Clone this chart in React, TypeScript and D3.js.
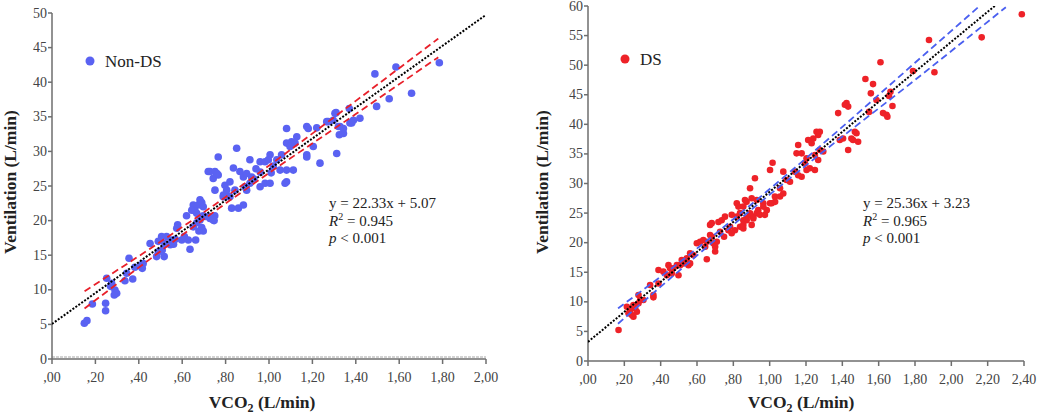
import * as d3 from "d3";

// ---- data ----
// Non-DS group, [VCO2 L/min, VE L/min]
const nonDsPoints: [number, number][] = [
  [0.149, 5.16], [0.161, 5.54], [0.186, 7.95], [0.247, 8.05], [0.247, 6.98], [0.252, 11.66],
  [0.275, 10.94], [0.29, 9.97], [0.298, 9.49], [0.287, 9.25], [0.27, 10.5], [0.336, 11.3],
  [0.372, 11.56], [0.355, 14.55], [0.344, 12.4], [0.382, 13.25], [0.41, 13.58], [0.416, 13.1],
  [0.413, 13.3], [0.42, 13.8], [0.452, 16.7], [0.482, 14.8], [0.49, 15.5], [0.517, 14.8],
  [0.508, 15.75], [0.505, 17.7], [0.528, 17.7], [0.551, 17.2], [0.52, 16.7], [0.545, 16.5],
  [0.56, 16.6], [0.568, 17.3], [0.49, 17.0], [0.579, 19.4], [0.575, 18.9], [0.598, 17.2],
  [0.61, 17.7], [0.628, 17.2], [0.636, 15.85], [0.662, 17.2], [0.62, 20.7], [0.651, 22.25],
  [0.674, 22.25], [0.69, 22.6], [0.659, 21.4], [0.697, 20.7], [0.667, 19.7], [0.69, 19.0],
  [0.697, 18.5], [0.677, 18.5], [0.728, 20.3], [0.747, 20.0], [0.75, 20.7], [0.751, 24.4],
  [0.79, 23.7], [0.81, 23.5], [0.828, 21.8], [1.081, 33.3], [1.174, 33.6], [1.266, 34.3],
  [1.304, 35.5], [0.851, 30.45], [0.766, 29.2], [0.728, 27.1], [0.751, 27.1], [0.766, 26.6],
  [0.743, 26.1], [0.836, 27.6], [0.866, 27.1], [0.912, 28.8], [0.959, 28.5], [0.982, 28.5],
  [1.005, 29.5], [0.997, 28.8], [1.128, 32.1], [1.104, 31.4], [1.081, 31.2], [1.097, 30.7],
  [1.12, 31.2], [1.204, 30.7], [1.174, 29.5], [1.235, 28.3], [1.312, 29.7], [1.343, 32.6],
  [1.327, 33.6], [1.389, 34.5], [1.373, 34.1], [0.797, 25.1], [0.82, 25.6], [0.805, 24.4],
  [0.789, 23.45], [0.82, 23.45], [0.843, 24.4], [0.882, 26.3], [0.889, 24.9], [0.897, 24.4],
  [0.912, 25.4], [0.897, 26.8], [0.92, 26.3], [0.959, 24.9], [0.982, 25.4], [1.005, 25.4],
  [1.051, 27.3], [1.081, 27.3], [1.112, 27.3], [1.081, 25.6], [0.682, 23.0], [0.644, 21.5],
  [0.667, 21.05], [0.697, 22.0], [0.705, 20.6], [0.728, 20.6], [0.743, 20.1], [0.682, 20.1],
  [0.651, 19.1], [0.859, 21.8], [0.882, 22.25], [1.488, 41.2], [1.585, 42.2], [1.785, 42.8],
  [1.657, 38.4], [1.554, 37.6], [1.496, 36.5], [1.37, 36.2], [1.309, 35.6], [1.273, 34.3],
  [1.296, 34.5], [1.419, 34.8], [1.381, 34.1], [1.343, 33.3], [1.32, 33.6], [1.324, 32.4],
  [1.181, 33.3], [1.22, 33.4], [1.074, 25.4], [1.174, 29.2], [1.036, 28.8], [1.058, 29.5],
  [1.02, 27.9], [0.94, 27.5], [0.93, 26.0], [0.96, 27.0], [1.01, 26.9], [0.72, 27.1],
  [0.76, 26.8],
];

// DS group
const dsPoints: [number, number][] = [
  [0.168, 5.24], [0.214, 9.18], [0.232, 8.62], [0.241, 7.77], [0.25, 7.49], [0.26, 8.9],
  [0.269, 8.33], [0.223, 8.06], [0.25, 9.46], [0.278, 9.75], [0.287, 10.3], [0.278, 11.15],
  [0.305, 10.3], [0.342, 12.84], [0.36, 11.15], [0.36, 10.76], [0.388, 15.38], [0.388, 13.1],
  [0.415, 15.1], [0.443, 16.2], [0.452, 15.67], [0.47, 15.67], [0.489, 16.2], [0.498, 14.5],
  [0.461, 14.8], [0.434, 14.5], [0.516, 17.07], [0.525, 16.5], [0.544, 17.36], [0.553, 16.2],
  [0.562, 16.5], [0.507, 16.2], [0.562, 18.2], [0.58, 17.9], [0.599, 19.9], [0.617, 20.16],
  [0.635, 20.45], [0.654, 20.16], [0.672, 21.3], [0.645, 19.3], [0.69, 19.9], [0.709, 20.16],
  [0.7, 19.3], [0.7, 18.5], [0.654, 17.2], [0.681, 21.0], [0.672, 23.0], [0.681, 23.3],
  [0.718, 23.5], [0.736, 23.8], [0.754, 24.4], [0.727, 21.85], [0.749, 21.0], [0.773, 22.1],
  [0.782, 22.7], [0.809, 22.1], [0.791, 21.6], [0.791, 24.7], [0.819, 24.4], [0.837, 25.0],
  [0.855, 23.8], [0.873, 24.1], [0.892, 24.7], [0.91, 24.4], [0.929, 25.0], [0.901, 23.0],
  [0.837, 22.7], [0.855, 22.4], [0.819, 26.65], [0.828, 26.1], [0.873, 26.9], [0.937, 25.5],
  [0.947, 24.7], [0.965, 26.65], [0.984, 25.5], [1.011, 26.65], [1.03, 26.9], [1.377, 41.9],
  [1.423, 43.6], [1.432, 43.0], [1.414, 43.3], [1.624, 41.9], [1.643, 41.6], [1.469, 38.75],
  [1.478, 38.5], [1.459, 37.35], [1.487, 37.06], [1.432, 35.66], [1.386, 37.35], [1.404, 37.6],
  [1.258, 38.75], [1.276, 38.75], [1.267, 38.2], [1.24, 37.6], [1.212, 37.35], [1.231, 36.8],
  [1.295, 35.4], [1.267, 33.97], [1.249, 34.8], [1.276, 35.66], [1.157, 36.5], [1.148, 35.1],
  [1.176, 35.1], [1.203, 34.26], [1.194, 33.4], [1.221, 32.57], [1.203, 32.28], [1.176, 31.15],
  [1.139, 32.0], [1.157, 31.4], [1.249, 32.28], [1.016, 33.5], [1.002, 32.28], [0.919, 30.9],
  [1.075, 32.0], [1.093, 30.6], [1.112, 30.3], [1.057, 29.2], [1.029, 27.8], [1.057, 27.8],
  [1.075, 28.3], [0.892, 29.2], [0.901, 27.5], [0.929, 27.2], [0.965, 26.1], [0.892, 24.96],
  [0.855, 26.1], [0.864, 27.2], [1.002, 26.65], [0.974, 24.7], [0.91, 24.1], [0.873, 23.8],
  [0.855, 23.0], [2.388, 58.6], [2.167, 54.7], [1.877, 54.25], [1.907, 48.8], [1.789, 49.0],
  [1.61, 50.5], [1.527, 47.66], [1.569, 46.8], [1.557, 45.24], [1.588, 44.1], [1.665, 45.5],
  [1.657, 44.8], [1.676, 43.1], [1.648, 41.3], [1.547, 42.1], [1.45, 37.6],
];

// regression fits
const nonDsFit = { slope: 22.33, intercept: 5.07, from: 0, to: 2.0 };
const dsFit = { slope: 25.36, intercept: 3.23, from: 0, to: 2.24 };

// 95% CI band of the mean, read at a few x positions
const nonDsBandX = [0.15, 0.45, 0.75, 1.05, 1.4, 1.78];
const nonDsBandUpper = [9.8, 15.9, 22.3, 29.1, 37.3, 46.3];
const nonDsBandLower = [7.3, 14.4, 21.35, 27.95, 35.4, 43.6];
const dsBandX = [0.165, 0.5, 0.9, 1.3, 1.8, 2.3];
const dsBandUpper = [8.9, 16.6, 26.5, 36.9, 50.4, 63.9];
const dsBandLower = [6.3, 15.2, 25.6, 35.5, 47.5, 59.8];

// ticks
const nonDsXTicks = [0, 0.2, 0.4, 0.6, 0.8, 1.0, 1.2, 1.4, 1.6, 1.8, 2.0];
const nonDsYTicks = [0, 5, 10, 15, 20, 25, 30, 35, 40, 45, 50];
const dsXTicks = [0, 0.2, 0.4, 0.6, 0.8, 1.0, 1.2, 1.4, 1.6, 1.8, 2.0, 2.2, 2.4];
const dsYTicks = [0, 5, 10, 15, 20, 25, 30, 35, 40, 45, 50, 55, 60];

const nonDsStats = ["y = 22.33x + 5.07", "0.945", "0.001"];
const dsStats = ["y = 25.36x + 3.23", "0.965", "0.001"];

const SERIF = "'Liberation Serif', 'Times New Roman', serif";

// ,00  ,20  1,00 ...
const fmtTick = (v: number) => v.toFixed(2).replace(".", ",").replace(/^0/, "");

function Panel({ id, points, dotColor, dotR, bandColor, fit, bandX, bandUp, bandLo,
  xTicks, yTicks, box, legend, stats, statsX, yTitleX, doubleBase }) {
  const x = d3.scaleLinear().domain([xTicks[0], xTicks[xTicks.length - 1]]).range([box.left, box.right]);
  const y = d3.scaleLinear().domain([yTicks[0], yTicks[yTicks.length - 1]]).range([box.bottom, box.top]);

  const line = d3.line<[number, number]>().x((d) => x(d[0])).y((d) => y(d[1]));
  const bandLine = d3.line<[number, number]>().x((d) => x(d[0])).y((d) => y(d[1])).curve(d3.curveMonotoneX);

  const fitPts: [number, number][] = [fit.from, fit.to].map((v) => [v, fit.slope * v + fit.intercept]);
  const up: [number, number][] = bandX.map((v, i) => [v, bandUp[i]]);
  const lo: [number, number][] = bandX.map((v, i) => [v, bandLo[i]]);

  const axisColor = "#6e6e6e";
  const labelColor = "#444";
  const xTitleCx = (box.left + box.right) / 2 - (doubleBase ? 7 : 5);

  return (
    <g>
      <defs>
        <clipPath id={id}>
          <rect x={box.left} y={box.top} width={box.right - box.left + 10} height={box.bottom - box.top} />
        </clipPath>
      </defs>

      {/* axes */}
      {doubleBase && (
        <line x1={box.left} x2={box.right} y1={box.bottom - 2} y2={box.bottom - 2}
          stroke="#a8a8a8" strokeWidth={1.2} strokeDasharray="3,1" />
      )}
      <line x1={box.left} x2={box.right} y1={box.bottom} y2={box.bottom} stroke={axisColor} strokeWidth={1.5} />
      <line x1={box.left} x2={box.left} y1={box.top} y2={box.bottom} stroke={axisColor} strokeWidth={1.5} />
      {xTicks.map((t) => (
        <g key={"x" + t}>
          <line x1={x(t)} x2={x(t)} y1={box.bottom} y2={box.bottom + 5} stroke={axisColor} strokeWidth={1.5} />
          <text x={x(t)} y={box.bottom + 23} textAnchor="middle" fontSize={14} fill={labelColor} fontFamily={SERIF}>
            {fmtTick(t)}
          </text>
        </g>
      ))}
      {yTicks.map((t) => (
        <g key={"y" + t}>
          <line x1={box.left - 4} x2={box.left} y1={y(t)} y2={y(t)} stroke={axisColor} strokeWidth={1.5} />
          <text x={box.left - 5} y={y(t) + 4.5} textAnchor="end" fontSize={14} fill={labelColor} fontFamily={SERIF}>
            {t}
          </text>
        </g>
      ))}

      {/* axis titles */}
      <text x={xTitleCx} y={408} textAnchor="middle" fontSize={17.5} fontWeight="bold" fontFamily={SERIF} fill="#222">
        VCO<tspan fontSize={12} dy={4}>2</tspan><tspan dy={-4}> (L/min)</tspan>
      </text>
      <text transform={`translate(${yTitleX},182) rotate(-90)`} textAnchor="middle" fontSize={17.5}
        fontWeight="bold" fontFamily={SERIF} fill="#222">
        Ventilation (L/min)
      </text>

      {/* points */}
      {points.map((p, i) => (
        <circle key={i} cx={x(p[0])} cy={y(p[1])} r={dotR} fill={dotColor} />
      ))}

      {/* fit and CI */}
      <g clipPath={`url(#${id})`}>
        <path d={bandLine(up)} fill="none" stroke={bandColor} strokeWidth={1.8} strokeDasharray="7,4" />
        <path d={bandLine(lo)} fill="none" stroke={bandColor} strokeWidth={1.8} strokeDasharray="7,4" />
        <path d={line(fitPts)} fill="none" stroke="#000" strokeWidth={2} strokeDasharray="2,1.6" />
      </g>

      {/* legend */}
      <circle cx={legend.x} cy={legend.y} r={4.5} fill={dotColor} />
      <text x={legend.x + 15} y={legend.y + 6} fontSize={17} fontFamily={SERIF} fill="#222">{legend.label}</text>

      {/* stats */}
      <g fontFamily={SERIF} fontSize={15} fill="#222">
        <text x={statsX} y={208}>{stats[0]}</text>
        <text x={statsX} y={226}>
          <tspan fontStyle="italic">R</tspan>
          <tspan fontSize={10} dy={-6}>2</tspan>
          <tspan dy={6}>{" = " + stats[1]}</tspan>
        </text>
        <text x={statsX} y={243}>
          <tspan fontStyle="italic">p</tspan>
          <tspan>{" < " + stats[2]}</tspan>
        </text>
      </g>
    </g>
  );
}

export default function App() {
  return (
    <>
      <style>{`body{margin:0;background:#fff}`}</style>
      <svg width={1045} height={416} style={{ display: "block" }}>
        <rect width={1045} height={416} fill="#fff" />
        <Panel
          id="clipL"
          points={nonDsPoints}
          dotColor="#5a62f2"
          dotR={3.8}
          bandColor="#e8202a"
          fit={nonDsFit}
          bandX={nonDsBandX}
          bandUp={nonDsBandUpper}
          bandLo={nonDsBandLower}
          xTicks={nonDsXTicks}
          yTicks={nonDsYTicks}
          box={{ left: 52, right: 486, top: 13, bottom: 359 }}
          legend={{ x: 90, y: 61, label: "Non-DS" }}
          stats={nonDsStats}
          statsX={329}
          yTitleX={16}
          doubleBase={true}
        />
        <Panel
          id="clipR"
          points={dsPoints}
          dotColor="#ee2228"
          dotR={3.3}
          bandColor="#4a5ff0"
          fit={dsFit}
          bandX={dsBandX}
          bandUp={dsBandUpper}
          bandLo={dsBandLower}
          xTicks={dsXTicks}
          yTicks={dsYTicks}
          box={{ left: 588, right: 1024, top: 6, bottom: 361 }}
          legend={{ x: 625, y: 59, label: "DS" }}
          stats={dsStats}
          statsX={863}
          yTitleX={548}
          doubleBase={false}
        />
      </svg>
    </>
  );
}
